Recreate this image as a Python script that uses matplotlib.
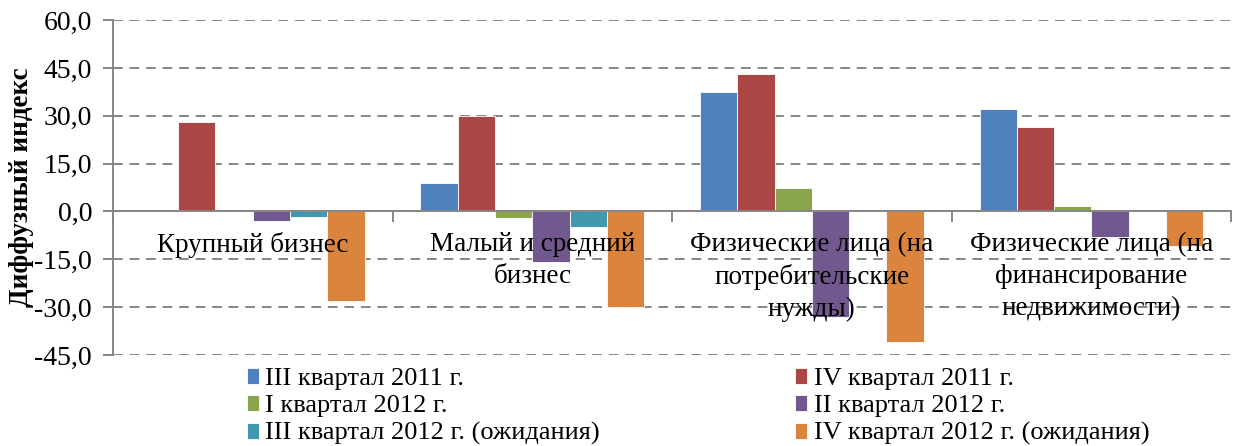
import numpy as np
import matplotlib
matplotlib.use("Agg")
import matplotlib.pyplot as plt
from matplotlib.ticker import FuncFormatter, FixedLocator

plt.rcParams['font.family'] = ['Liberation Serif', 'DejaVu Serif']

categories = ["Крупный бизнес",
              "Малый и средний\nбизнес",
              "Физические лица (на\nпотребительские\nнужды)",
              "Физические лица (на\nфинансирование\nнедвижимости)"]

series_names = ["III квартал 2011 г.", "IV квартал 2011 г.",
                "I квартал 2012 г.", "II квартал 2012 г.",
                "III квартал 2012 г. (ожидания)", "IV квартал 2012 г. (ожидания)"]

q3_2011 = [0.0, 8.9, 37.3, 32.2]
q4_2011 = [28.2, 29.9, 43.2, 26.6]
q1_2012 = [0.0, -2.0, 7.2, 1.8]
q2_2012 = [-3.0, -15.7, -33.0, -8.0]
q3_2012_exp = [-1.7, -4.8, 0.0, 0.0]
q4_2012_exp = [-28.2, -29.8, -40.8, -10.8]

colors = ["#4F81BD", "#AA4643", "#89A54E", "#71588F", "#4198AF", "#DB843D"]

yticks = [-45, -30, -15, 0, 15, 30, 45, 60]

data = [q3_2011, q4_2011, q1_2012, q2_2012, q3_2012_exp, q4_2012_exp]

fig = plt.figure(figsize=(12.33, 4.46), dpi=100)
ax = fig.add_axes([0.0916, 0.204, 0.907, 0.751])

x = np.arange(len(categories))
n = len(data)
group = 0.8
w = group / n
for i, (vals, c) in enumerate(zip(data, colors)):
    off = -group / 2 + w * (i + 0.5)
    ax.bar(x + off, vals, w, color=c, edgecolor='white', linewidth=0.6,
           label=series_names[i], zorder=2)

ax.set_xlim(-0.5, len(categories) - 0.5)
ax.set_ylim(yticks[0], yticks[-1])
ax.set_yticks(yticks)
ax.yaxis.set_major_formatter(FuncFormatter(lambda v, p: f"{v:.1f}".replace('.', ',')))
ax.grid(axis='y', color='#868686', linestyle=(0, (5, 3.5)), linewidth=1.4)
ax.set_axisbelow(True)

for s in ['top', 'right']:
    ax.spines[s].set_visible(False)
ax.spines['left'].set_color('#868686')
ax.spines['left'].set_linewidth(1.4)
ax.spines['bottom'].set_position(('data', 0))
ax.spines['bottom'].set_color('#868686')
ax.spines['bottom'].set_linewidth(1.4)
ax.spines['bottom'].set_zorder(3)

ax.set_xticks(x)
ax.set_xticklabels(categories, fontsize=19.5, linespacing=1.35)
ax.xaxis.set_minor_locator(FixedLocator(np.arange(len(categories) + 1) - 0.5))
ax.tick_params(axis='x', which='major', length=0, pad=15)
ax.tick_params(axis='x', which='minor', length=8, width=1.4, color='#868686', direction='out')
ax.tick_params(axis='y', length=7, width=1.4, color='#868686', labelsize=20, pad=8)
ax.xaxis.set_zorder(4)

ax.set_ylabel("Диффузный индекс", fontsize=19.5, fontweight='bold')
ax.yaxis.set_label_coords(-0.0705, 0.5)

order = [0, 2, 4, 1, 3, 5]
h, l = ax.get_legend_handles_labels()
fig.legend([h[i] for i in order], [l[i] for i in order], ncol=2,
           loc='upper left', bbox_to_anchor=(0.1895, 0.205), frameon=False,
           fontsize=19, handlelength=0.45, handleheight=0.55, handletextpad=0.25,
           columnspacing=7.4, labelspacing=0.19, borderpad=0)

fig.savefig("out.png", dpi=100)
